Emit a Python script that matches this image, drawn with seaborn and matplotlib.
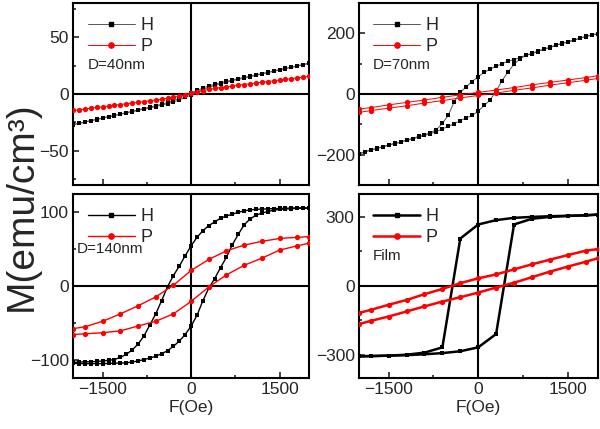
import numpy as np
import pandas as pd
import seaborn as sns
import matplotlib.pyplot as plt
from matplotlib.lines import Line2D
from matplotlib.ticker import MultipleLocator

# field grids (Oe)
f_fine = [-2000, -1900, -1800, -1700, -1600, -1500, -1400, -1300, -1200, -1100, -1000,
          -900, -800, -700, -600, -500, -400, -300, -200, -100, 0,
          100, 200, 300, 400, 500, 600, 700, 800, 900, 1000,
          1100, 1200, 1300, 1400, 1500, 1600, 1700, 1800, 1900, 2000]
f_coarse = [-2000, -1800, -1500, -1200, -900, -600, -300, 0, 300, 600, 900, 1200, 1500, 1800, 2000]

# D=40nm
h40_up = [-26.8, -25.7, -24.5, -23.4, -22.2, -21.1, -19.9, -18.8, -17.6, -16.4, -15.2,
          -14.0, -12.8, -11.6, -10.3, -9.0, -7.5, -5.8, -3.8, -1.6, 0.8,
          3.1, 5.2, 7.0, 8.5, 9.9, 11.1, 12.3, 13.4, 14.5, 15.7,
          16.8, 17.9, 19.1, 20.2, 21.4, 22.5, 23.6, 24.8, 25.9, 27.0]
h40_dn = [-27.0, -25.9, -24.8, -23.6, -22.5, -21.4, -20.2, -19.1, -17.9, -16.8, -15.7,
          -14.5, -13.4, -12.3, -11.1, -9.9, -8.5, -7.0, -5.2, -3.1, -0.8,
          1.6, 3.8, 5.8, 7.5, 9.0, 10.3, 11.6, 12.8, 14.0, 15.2,
          16.4, 17.6, 18.8, 19.9, 21.1, 22.2, 23.4, 24.5, 25.7, 26.8]
p40 = [-14.5, -13.9, -13.2, -12.5, -11.9, -11.3, -10.6, -9.9, -9.3, -8.6, -8.0,
       -7.3, -6.7, -6.0, -5.3, -4.6, -3.8, -3.0, -2.0, -0.8, 0.5,
       1.8, 3.0, 4.0, 4.8, 5.6, 6.3, 7.0, 7.7, 8.3, 9.0,
       9.6, 10.3, 10.9, 11.6, 12.2, 12.9, 13.5, 14.2, 14.8, 15.5]

# D=70nm
h70_up = [-198, -190, -185, -179, -174, -168, -163, -158, -152, -147, -140,
          -135, -128, -118, -97, -70, -25, 5, 24, 41, 57,
          71, 82, 91, 100, 108, 113, 120, 128, 134, 141,
          148, 154, 161, 167, 172, 178, 184, 190, 195, 199]
h70_dn = [-199, -191, -186, -180, -175, -169, -164, -160, -153, -149, -142,
          -137, -131, -124, -115, -107, -98, -88, -79, -71, -57,
          -38, -20, 10, 44, 73, 98, 116, 127, 133, 140,
          147, 153, 160, 166, 171, 177, 183, 189, 194, 198]
p70_up = [-50, -45, -36, -28, -20, -11, -3, 5, 13, 21, 30, 38, 46, 54, 60]
p70_dn = [-61, -55, -47, -39, -30, -22, -13, -5, 3, 12, 20, 29, 37, 45, 51]

# D=140nm
h140_up = [-104, -103.5, -103, -103, -102.5, -102, -101, -100, -97, -93, -87,
           -79, -68, -53, -38, -20, -1, 14, 27, 41, 54.5,
           66, 75, 82, 87, 92, 95, 97.5, 100, 102, 103.3,
           104, 104.3, 104.7, 105, 105.2, 105.5, 105.8, 106, 106, 106]
h140_dn = [-105, -105.5, -105.5, -105.5, -105.5, -105.5, -105.3, -105, -104.8, -104.5, -103.3,
           -102, -100, -98, -95.5, -92, -88, -82, -75, -66, -54.5,
           -40, -20, -3, 10, 25, 39, 56, 70, 83, 91,
           96, 99, 101, 103, 104, 104.5, 105, 105.5, 105.5, 105.5]
p140_up = [-58, -55.5, -48, -38, -27, -15, 1, 21, 36, 47.7, 55.5, 60.5, 64.5, 66, 67]
p140_dn = [-66, -65, -63.6, -61, -54.5, -48, -38, -21, -1.4, 15, 28, 37.7, 48.6, 54.5, 58]

# Film
hfilm_up = [-306, -305, -303, -299, -290, -267, 206, 267, 286, 296, 300, 303, 305, 307, 310]
hfilm_dn = [-306, -305, -303, -301, -297, -292, -284, -267, -209, 267, 292, 300, 304, 307, 310]
pfilm_up = [-118, -104, -82, -61, -36, -13, 12, 33, 50, 72, 94, 114, 134, 153, 160]
pfilm_dn = [-166, -152, -133, -111, -89, -68, -49, -29, -7, 14, 38, 62, 84, 105, 120]


def branches(f, named):
    parts = [pd.DataFrame({"F": f, "M": vals, "branch": name}) for name, vals in named]
    return pd.concat(parts, ignore_index=True)


panels = [
    dict(pos=[0.122, 0.569, 0.393, 0.424], label="D=40nm", ylim=(-80, 80), major=50, minor=25,
         h=branches(f_fine, [("up", h40_up), ("dn", h40_dn)]),
         p=branches(f_fine, [("one", p40)]),
         hcol="#555555", lw=0.7, lab_xy=(0.06, 0.66), bottom=False),
    dict(pos=[0.598, 0.569, 0.398, 0.424], label="D=70nm", ylim=(-300, 300), major=200, minor=100,
         h=branches(f_fine, [("up", h70_up), ("dn", h70_dn)]),
         p=branches(f_coarse, [("up", p70_up), ("dn", p70_dn)]),
         hcol="#555555", lw=0.7, lab_xy=(0.06, 0.66), bottom=False),
    dict(pos=[0.122, 0.119, 0.393, 0.429], label="D=140nm", ylim=(-125, 125), major=100, minor=50,
         h=branches(f_fine, [("up", h140_up), ("dn", h140_dn)]),
         p=branches(f_coarse, [("up", p140_up), ("dn", p140_dn)]),
         hcol="black", lw=1.0, lab_xy=(0.015, 0.70), bottom=True),
    dict(pos=[0.598, 0.119, 0.398, 0.429], label="Film", ylim=(-400, 400), major=300, minor=150,
         h=branches(f_coarse, [("up", hfilm_up), ("dn", hfilm_dn)]),
         p=branches(f_coarse, [("up", pfilm_up), ("dn", pfilm_dn)]),
         hcol="black", lw=1.8, lab_xy=(0.06, 0.66), bottom=True),
]

sns.set_theme(style="ticks")
plt.rcParams["font.family"] = ["Liberation Sans", "DejaVu Sans"]

fig = plt.figure(figsize=(6, 4.29), dpi=100)

for cfg in panels:
    ax = fig.add_axes(cfg["pos"])
    ax.axhline(0, color="black", lw=1.5, zorder=1)
    ax.axvline(0, color="black", lw=1.5, zorder=1)
    sns.lineplot(data=cfg["h"], x="F", y="M", units="branch", estimator=None, sort=False,
                 color=cfg["hcol"], lw=cfg["lw"], marker="s", ms=3.4, mfc="black", mec="black",
                 mew=0, ax=ax, zorder=3)
    sns.lineplot(data=cfg["p"], x="F", y="M", units="branch", estimator=None, sort=False,
                 color="red", lw=cfg["lw"], marker="o", ms=3.8, mfc="red", mec="red",
                 mew=0, ax=ax, zorder=3)
    ax.set_xlim(-2000, 2000)
    ax.set_ylim(*cfg["ylim"])
    ax.xaxis.set_major_locator(MultipleLocator(1500))
    ax.xaxis.set_minor_locator(MultipleLocator(750))
    ax.yaxis.set_major_locator(MultipleLocator(cfg["major"]))
    ax.yaxis.set_minor_locator(MultipleLocator(cfg["minor"]))
    ax.tick_params(which="both", direction="in", width=1.2, labelsize=12.5,
                   top=False, right=False, pad=3)
    ax.tick_params(which="major", length=4)
    ax.tick_params(which="minor", length=2.5)
    for sp in ax.spines.values():
        sp.set_linewidth(1.5)
        sp.set_color("black")
    ax.set_ylabel("")
    if cfg["bottom"]:
        ax.set_xlabel("F(Oe)", fontsize=12.5, labelpad=2)
    else:
        ax.set_xlabel("")
        ax.tick_params(labelbottom=False)
    handles = [
        Line2D([], [], color=cfg["hcol"], lw=cfg["lw"], marker="s", ms=3.4, mfc="black", mec="black"),
        Line2D([], [], color="red", lw=cfg["lw"], marker="o", ms=3.8, mfc="red", mec="red"),
    ]
    ax.legend(handles, ["H", "P"], loc="upper left", frameon=False, fontsize=13,
              handlelength=2.6, handletextpad=0.3, labelspacing=0.2, borderaxespad=0.4)
    ax.text(*cfg["lab_xy"], cfg["label"], transform=ax.transAxes, fontsize=11,
            ha="left", va="center")

fig.text(0.036, 0.52, "M(emu/cm³)", rotation=90, fontsize=28, ha="center", va="center")

fig.savefig("out.png", dpi=100)
